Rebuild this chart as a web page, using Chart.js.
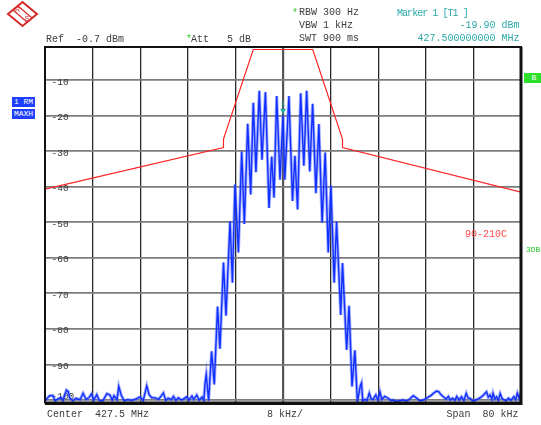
<!DOCTYPE html>
<html>
<head>
<meta charset="utf-8">
<script src="https://cdn.jsdelivr.net/npm/chart.js@4.4.1/dist/chart.umd.min.js"></script>
<style>
  html, body { margin: 0; padding: 0; background: #fff; }
  #wrap { position: relative; width: 541px; height: 425px; overflow: hidden;
          font-family: "Liberation Mono", monospace; font-size: 10px; color: #3c3c3c; }
  #wrap canvas { position: absolute; left: 0; top: 0; }
  .t { position: absolute; white-space: pre; line-height: 12px; height: 12px; }
  .teal { color: #2aa8a8; }
  .star { color: #33cc33; }
  .badge { position: absolute; color: #fff; font-size: 8px; text-align: center; }
</style>
</head>
<body>
<div id="wrap">
  <canvas id="myChart" width="541" height="425"></canvas>

  <svg style="position:absolute;left:0;top:0" width="45" height="30">
    <polygon points="22.5,2 37,14 22.5,26 8,14" fill="none" stroke="#d42a2a" stroke-width="2"/>
    <line x1="13" y1="10" x2="27" y2="22" stroke="#d42a2a" stroke-width="1.2"/>
    <line x1="18" y1="6" x2="32" y2="18" stroke="#d42a2a" stroke-width="1.2"/>
    <text x="15" y="12" font-family="Liberation Sans" font-size="7" fill="#d42a2a">R</text>
    <text x="24.5" y="20.5" font-family="Liberation Sans" font-size="7" fill="#d42a2a">S</text>
  </svg>

  <div class="t" style="left:46px;top:33.5px">Ref  -0.7 dBm</div>
  <div class="t star" style="left:186px;top:34px">*</div>
  <div class="t" style="left:191px;top:33.5px">Att   5 dB</div>
  <div class="t star" style="left:292px;top:8px">*</div>
  <div class="t" style="left:299px;top:7px">RBW 300 Hz</div>
  <div class="t" style="left:299px;top:20px">VBW 1 kHz</div>
  <div class="t" style="left:299px;top:32.5px">SWT 900 ms</div>
  <div class="t teal" style="left:397px;top:7.5px;letter-spacing:-0.95px">Marker 1 [T1 ]</div>
  <div class="t teal" style="right:21.5px;top:19.5px">-19.90 dBm</div>
  <div class="t teal" style="right:21.5px;top:32.5px">427.500000000 MHz</div>

  <div class="t" style="left:47px;top:409px">Center  427.5 MHz</div>
  <div class="t" style="left:267px;top:409px">8 kHz/</div>
  <div class="t" style="right:22.5px;top:409px">Span  80 kHz</div>

  <div class="t" style="left:465px;top:228.5px;color:#ff4a4a">90-210C</div>
  <div class="t" style="left:526px;top:244px;font-size:8px;color:#22c422">3DB</div>

  <div class="badge" style="left:12px;top:97px;width:23px;height:9.5px;line-height:9.5px;background:#1f3fff">1 RM</div>
  <div class="badge" style="left:12px;top:108.5px;width:23px;height:10px;line-height:10px;background:#1f3fff">MAXH</div>
  <div class="badge" style="left:524px;top:73px;width:20px;height:10px;line-height:10px;background:#2ee02e">B</div>
</div>

<script>
// trace 1, frequency offset from 427.5 MHz centre (kHz) and level (dBm)
const freqKHz = [
  -40.0, -39.7, -39.2, -38.7, -38.3, -37.8, -37.3, -37.0, -36.4, -36.1,
  -35.8, -35.3, -34.8, -34.1, -33.6, -33.1, -32.6, -32.2, -31.8, -31.3,
  -30.9, -30.3, -29.6, -29.1, -28.7, -28.4, -27.9, -27.6, -27.2, -26.7,
  -26.1, -25.4, -24.7, -24.0, -23.5, -22.9, -22.5, -22.1, -21.5, -20.9,
  -20.1, -19.7, -19.3, -18.8, -18.4, -18.0, -17.6, -17.0, -16.2, -15.8,
  -15.3, -15.0, -14.5, -14.1, -13.6, -13.3, -13.1, -12.9, -12.5,
  -12.0, -11.55, -11.0, -10.6, -10.0, -9.58, -8.9, -8.5, -8.07, -7.5,
  -6.94, -6.5, -5.93, -5.43, -4.99, -4.55, -3.98, -3.53, -2.95, -2.35,
  -1.9, -1.51, -1.06, -0.5, 0.0, 0.3, 1.0, 1.6, 2.0, 2.45,
  2.97, 3.5, 3.98, 4.5, 4.98, 5.53, 6.03, 6.58, 7.09, 7.6,
  8.05, 8.6, 9.0, 9.7, 10.0, 10.7, 11.1, 11.6, 12.08, 12.5,
  13.0, 13.2, 13.4,
  13.76, 14.1, 14.5, 14.8, 15.1, 15.6, 15.95, 16.3, 16.6, 17.1,
  17.7, 18.1, 18.5, 19.0, 19.6, 20.2, 20.8, 21.3, 21.9, 22.5,
  23.0, 23.6, 24.0, 24.4, 24.9, 25.3, 25.8, 26.2, 26.5, 26.9,
  27.4, 27.8, 28.1, 28.5, 28.9, 29.2, 29.6, 30.0, 30.4, 30.8,
  31.1, 31.4, 31.9, 32.4, 32.9, 33.3, 33.7, 34.2, 34.5, 34.8,
  35.1, 35.3, 35.6, 35.9, 36.2, 36.5, 36.8, 37.1, 37.5, 37.9,
  38.3, 38.8, 39.1, 39.4, 39.7, 40.0
];
const levelDbm = [
  -100.3, -99.6, -98.8, -98.7, -100.2, -99.7, -99.3, -100.2, -97.2, -97.6,
  -99.6, -100.2, -99.5, -99.9, -98.1, -99.8, -99.3, -98.3, -100.0, -98.5,
  -100.1, -100.3, -98.2, -98.6, -100.0, -98.8, -99.9, -96.2, -98.6, -100.2,
  -99.9, -100.1, -99.7, -99.1, -100.2, -96.0, -98.5, -99.3, -99.4, -99.8,
  -98.0, -100.1, -99.5, -99.9, -99.0, -100.1, -99.4, -100.0, -99.1, -100.0,
  -98.9, -99.8, -98.6, -100.0, -99.2, -100.1, -95.3, -92.8, -100.2,
  -86.3, -95.6, -73.7, -85.6, -61.3, -76.3, -49.7, -67.0, -39.4, -58.5,
  -30.1, -50.5, -22.3, -42.2, -16.4, -35.9, -13.0, -32.4, -13.4, -46.0,
  -31.5, -43.1, -14.5, -38.0, -19.9, -38.0, -14.5, -44.0, -31.3, -46.4,
  -13.7, -34.1, -13.0, -35.7, -16.7, -41.8, -22.4, -50.1, -30.4, -58.5,
  -39.7, -67.0, -49.8, -76.1, -61.5, -85.9, -73.5, -96.2, -86.0, -100.4,
  -96.0, -95.2, -100.3,
  -99.8, -100.2, -98.1, -99.6, -99.9, -98.6, -100.0, -97.7, -99.8, -99.0,
  -99.5, -100.1, -100.0, -100.4, -100.2, -100.0, -100.3, -99.7, -98.8, -99.5,
  -100.2, -100.0, -99.6, -99.2, -98.7, -98.1, -97.5, -97.7, -98.4, -99.0,
  -99.7, -99.0, -100.0, -99.5, -100.1, -99.0, -100.0, -99.1, -100.1, -98.1,
  -99.4, -99.5, -100.2, -100.0, -99.6, -99.2, -98.6, -97.7, -99.2, -98.6,
  -99.8, -98.1, -99.7, -99.1, -100.1, -98.2, -99.5, -99.9, -100.2, -99.5,
  -100.1, -99.1, -99.9, -98.1, -99.6, -97.8
];

// limit line
const limitKHz = [-40, -10, -10, -5, 5, 10, 10, 40];
const limitDbm = [-40.7, -29.0, -26.6, -1.4, -1.4, -26.6, -29.0, -41.5];

// marker 1
const markerKHz = 0;
const markerDbm = -19.9;

const xTicks = [-40, -32, -24, -16, -8, 0, 8, 16, 24, 32, 40];
const yTicks = [-10, -20, -30, -40, -50, -60, -70, -80, -90, -100];

const pts = (xs, ys) => xs.map((x, i) => ({ x: x, y: ys[i] }));

const framePlugin = {
  id: 'frame',
  afterDatasetsDraw(chart) {
    const a = chart.chartArea;
    const c = chart.ctx;
    c.save();
    c.strokeStyle = '#111';
    c.lineWidth = 2;
    c.strokeRect(a.left, a.top, a.right - a.left, a.bottom - a.top);
    c.lineWidth = 3;
    c.beginPath();
    c.moveTo(a.right, a.top);
    c.lineTo(a.right, a.bottom + 1);
    c.lineTo(a.left, a.bottom + 1);
    c.stroke();

    // marker 1
    const px = chart.scales.x.getPixelForValue(markerKHz);
    const py = chart.scales.y.getPixelForValue(markerDbm);
    c.fillStyle = '#1ea5a5';
    c.beginPath();
    c.moveTo(px, py - 1);
    c.lineTo(px - 2.8, py - 6.5);
    c.lineTo(px + 2.8, py - 6.5);
    c.closePath();
    c.fill();
    c.font = '8px "Liberation Mono"';
    c.textAlign = 'center';
    c.textBaseline = 'bottom';
    c.fillText('1', px, py - 7);
    c.restore();
  }
};

const ctx = document.getElementById('myChart');

new Chart(ctx, {
  type: 'line',
  data: {
    datasets: [
      {
        data: pts(freqKHz, levelDbm),
        borderColor: '#1030ff',
        borderWidth: 1.4,
        pointRadius: 0,
        tension: 0
      },
      {
        data: pts(freqKHz, levelDbm),
        borderColor: 'rgba(80,100,255,0.5)',
        borderWidth: 3.2,
        pointRadius: 0,
        tension: 0
      },
      {
        data: pts(limitKHz, limitDbm),
        borderColor: '#ff2424',
        borderWidth: 1.2,
        pointRadius: 0,
        tension: 0
      }
    ]
  },
  options: {
    responsive: false,
    animation: false,
    events: [],
    layout: { padding: { left: 45, top: 47, right: 20, bottom: 22.5 } },
    plugins: { legend: { display: false }, tooltip: { enabled: false } },
    scales: {
      x: {
        type: 'linear',
        min: -40,
        max: 40,
        afterBuildTicks: s => { s.ticks = xTicks.map(v => ({ value: v })); },
        afterFit: s => { s.height = 0; },
        ticks: { display: false },
        grid: {
          drawTicks: false,
          color: c => (c.tick && c.tick.value === 0) ? '#555' : '#2a2a2a',
          lineWidth: c => (c.tick && c.tick.value === 0) ? 2.2 : 1.3
        },
        border: { display: false }
      },
      y: {
        type: 'linear',
        min: -100.7,
        max: -0.7,
        afterBuildTicks: s => { s.ticks = yTicks.map(v => ({ value: v })); },
        afterFit: s => { s.width = 0; },
        ticks: {
          mirror: true,
          padding: 6.5,
          labelOffset: 2,
          color: '#333',
          font: { family: 'Liberation Mono', size: 9.5 },
          callback: v => v === -100 ? [String(v), ''] : String(v)
        },
        grid: { drawTicks: false, color: '#7d7d7d', lineWidth: 1.8 },
        border: { display: false }
      }
    }
  },
  plugins: [framePlugin]
});
</script>
</body>
</html>
